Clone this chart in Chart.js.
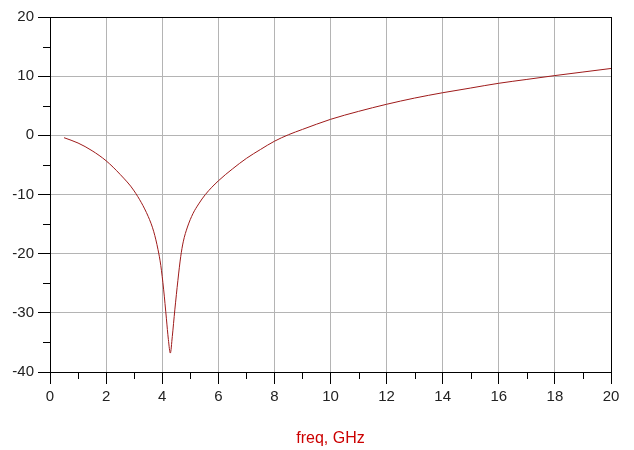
<!DOCTYPE html>
<html>
<head>
<meta charset="utf-8">
<script src="https://cdn.jsdelivr.net/npm/chart.js@4.4.1/dist/chart.umd.min.js"></script>
<style>
  html, body { margin: 0; padding: 0; background: #fff; }
</style>
</head>
<body>
<canvas id="chart" width="634" height="450"></canvas>
<script>
// values (freq in GHz, response in dB)
const freqs = [0.5, 1, 1.5, 2, 2.5, 3, 3.5, 3.7, 3.85, 3.95, 4.05, 4.15, 4.22, 4.29,
               4.36, 4.45, 4.56, 4.66, 4.75, 4.9, 5.1, 5.3, 5.54, 6, 6.5, 7, 7.5, 8, 8.5,
               9, 10, 11, 12, 13, 14, 15, 16, 17, 18, 19, 20];
const values = [-0.4, -1.3, -2.6, -4.3, -6.6, -9.4, -13.7, -16.3, -19.3, -22, -26, -31, -34.5, -36.8,
                -34, -29.5, -24.5, -20.5, -18, -15.5, -13.2, -11.6, -10, -7.7, -5.7, -3.9, -2.4, -1.0, 0.1,
                1.0, 2.7, 4.05, 5.25, 6.3, 7.2, 8.0, 8.8, 9.45, 10.1, 10.7, 11.3];
const xTicks = [0, 2, 4, 6, 8, 10, 12, 14, 16, 18, 20];
const yTicks = [-40, -30, -20, -10, 0, 10, 20];
const xMinor = [1, 3, 5, 7, 9, 11, 13, 15, 17, 19];
const yMinor = [-35, -25, -15, -5, 5, 15];

const frame = {
  id: 'frame',
  afterDraw(chart) {
    const { ctx, chartArea: a, scales: { x, y } } = chart;
    ctx.save();
    ctx.strokeStyle = '#000';
    ctx.lineWidth = 1;
    ctx.strokeRect(Math.round(a.left) + 0.5, Math.round(a.top) + 0.5,
                   Math.round(a.right - a.left), Math.round(a.bottom - a.top));
    ctx.beginPath();
    xMinor.forEach(v => {
      const px = Math.round(x.getPixelForValue(v)) + 0.5;
      ctx.moveTo(px, a.bottom); ctx.lineTo(px, a.bottom + 7);
    });
    yMinor.forEach(v => {
      const py = Math.round(y.getPixelForValue(v)) + 0.5;
      ctx.moveTo(a.left, py); ctx.lineTo(a.left - 7, py);
    });
    ctx.stroke();
    ctx.restore();
  }
};

new Chart(document.getElementById('chart'), {
  type: 'line',
  data: {
    datasets: [{
      data: freqs.map((f, i) => ({ x: f, y: values[i] })),
      borderColor: '#9e1a1a',
      borderWidth: 1,
      pointRadius: 0,
      cubicInterpolationMode: 'monotone',
      fill: false
    }]
  },
  options: {
    responsive: false,
    animation: false,
    layout: { padding: { top: 17, right: 23, left: 0, bottom: 0 } },
    plugins: { legend: { display: false }, tooltip: { enabled: false } },
    scales: {
      x: {
        type: 'linear',
        min: 0, max: 20,
        afterBuildTicks: s => { s.ticks = xTicks.map(v => ({ value: v })); },
        afterFit: s => { s.height = 78; },
        grid: { color: '#b4b4b4', tickColor: '#000', tickLength: 12 },
        border: { color: '#000' },
        ticks: { color: '#222', padding: 4, maxRotation: 0,
                 font: { family: 'Liberation Sans', size: 15 } },
        title: { display: true, text: 'freq, GHz', color: '#cc0000',
                 padding: { top: 0, bottom: 2 },
                 font: { family: 'Liberation Sans', size: 16 } }
      },
      y: {
        min: -40, max: 20,
        afterBuildTicks: s => { s.ticks = yTicks.map(v => ({ value: v })); },
        afterFit: s => { s.width = 50; },
        grid: { color: '#b4b4b4', tickColor: '#000', tickLength: 12 },
        border: { color: '#000' },
        ticks: { color: '#222', padding: 4,
                 font: { family: 'Liberation Sans', size: 15 } }
      }
    }
  },
  plugins: [frame]
});
</script>
</body>
</html>
